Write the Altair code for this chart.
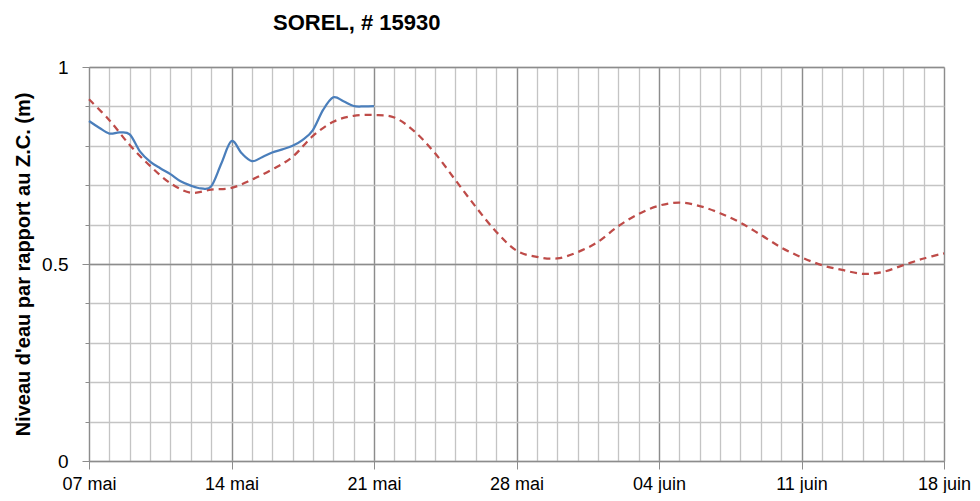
import json
import altair as alt
import pandas as pd

# ---- data ----
# observed water level (blue), day offsets from 07 mai
obs_day = [0, 0.5, 1, 1.5, 2, 2.5, 3, 3.5, 4, 4.5, 5, 5.5, 6, 6.5, 7,
           7.5, 8, 8.5, 9, 9.5, 10, 10.5, 11, 11.5, 12, 12.5, 13, 13.5, 14]
obs_level = [0.863, 0.846, 0.831, 0.834, 0.829, 0.786, 0.760, 0.743, 0.728,
             0.710, 0.699, 0.692, 0.697, 0.755, 0.812, 0.781, 0.761, 0.771,
             0.783, 0.791, 0.800, 0.815, 0.840, 0.891, 0.923, 0.913, 0.901,
             0.900, 0.901]

# predicted water level (red dashed), day offsets from 07 mai
pred_day = [0, 1, 2, 3, 4, 5, 6, 7, 8, 9, 10, 11, 12, 13, 14, 15, 16, 17, 18,
            19, 20, 21, 22, 23, 24, 25, 26, 27, 28, 29, 30, 31, 32, 33, 34, 35,
            36, 37, 38, 39, 40, 41, 42]
pred_level = [0.918, 0.865, 0.802, 0.749, 0.705, 0.681, 0.689, 0.693, 0.714,
              0.740, 0.772, 0.825, 0.861, 0.876, 0.878, 0.872, 0.836, 0.781,
              0.713, 0.645, 0.582, 0.534, 0.518, 0.514, 0.530, 0.556, 0.596,
              0.627, 0.648, 0.656, 0.647, 0.629, 0.605, 0.574, 0.542, 0.517,
              0.497, 0.485, 0.475, 0.480, 0.497, 0.514, 0.527]

x_major = [0, 7, 14, 21, 28, 35, 42]
x_labels = ["07 mai", "14 mai", "21 mai", "28 mai", "04 juin", "11 juin", "18 juin"]
x_minor = pred_day
y_major = [0, 0.5, 1]
y_minor = [0, 0.1, 0.2, 0.3, 0.4, 0.5, 0.6, 0.7, 0.8, 0.9, 1.0]

title_text = "SOREL, # 15930"
y_title = "Niveau d'eau par rapport au Z.C. (m)"

obs = pd.DataFrame({"jour": obs_day, "niveau": obs_level})
pred = pd.DataFrame({"jour": pred_day, "niveau": pred_level})

FONT = "Liberation Sans"
MINOR = "#c4c4c4"
MAJOR = "#8c8c8c"

xscale = alt.Scale(domain=[0, 42], nice=False, zero=False)
yscale = alt.Scale(domain=[0, 1], nice=False, zero=False)

minor_x_axis = alt.Axis(values=x_minor, grid=True, gridColor=MINOR, gridWidth=1.3,
                        labels=False, ticks=False, domain=False, title=None,
                        orient="bottom")
minor_y_axis = alt.Axis(values=y_minor, grid=True, gridColor=MINOR, gridWidth=1.3,
                        labels=False, ticks=True, tickSize=4, tickColor=MAJOR,
                        domain=False, title=None, orient="left")

label_expr = json.dumps(x_labels) + "[round(datum.value / 7)]"

major_x_axis = alt.Axis(values=x_major, grid=True, gridColor=MAJOR, gridWidth=1.3,
                        labelExpr=label_expr, labelFlush=False, labelOverlap=False,
                        tickSize=8, tickColor=MAJOR, domainColor=MAJOR,
                        labelPadding=6, labelFontSize=18, labelFont=FONT,
                        labelColor="black", title=None, orient="bottom")
major_y_axis = alt.Axis(values=y_major, grid=True, gridColor=MAJOR, gridWidth=1.3,
                        format="~g", tickSize=7, tickColor=MAJOR, domainColor=MAJOR,
                        labelPadding=14, labelFontSize=19, labelFont=FONT,
                        labelColor="black", labelOverlap=False,
                        title=y_title, titleFont=FONT, titleFontSize=20,
                        titleFontWeight="bold", titleColor="black",
                        titleX=-60, titleY=197, titleAngle=270,
                        titleBaseline="alphabetic", titleAlign="center",
                        orient="left")

pred_line = alt.Chart(pred).mark_line(
    color="#BE4B48", strokeWidth=2.25, strokeDash=[7, 5], interpolate="cardinal"
).encode(
    x=alt.X("jour:Q", scale=xscale, axis=minor_x_axis),
    y=alt.Y("niveau:Q", scale=yscale, axis=minor_y_axis),
)

obs_line = alt.Chart(obs).mark_line(
    color="#4A7EBB", strokeWidth=2.25, interpolate="cardinal"
).encode(
    x=alt.X("jour:Q", scale=xscale, axis=major_x_axis),
    y=alt.Y("niveau:Q", scale=yscale, axis=major_y_axis),
)

chart = alt.layer(pred_line, obs_line).resolve_axis(
    x="independent", y="independent"
).properties(
    width=855,
    height=394,
    padding={"left": 81, "top": 59, "right": 28, "bottom": 32},
    autosize=alt.AutoSizeParams(type="none"),
    background="white",
    title=alt.TitleParams(title_text, anchor="start", frame="group", dx=184,
                          offset=23, font=FONT, fontSize=22, fontWeight="bold",
                          color="black"),
).configure_view(stroke=None)

chart.save("out.html", embed_options={"renderer": "svg", "actions": False})
